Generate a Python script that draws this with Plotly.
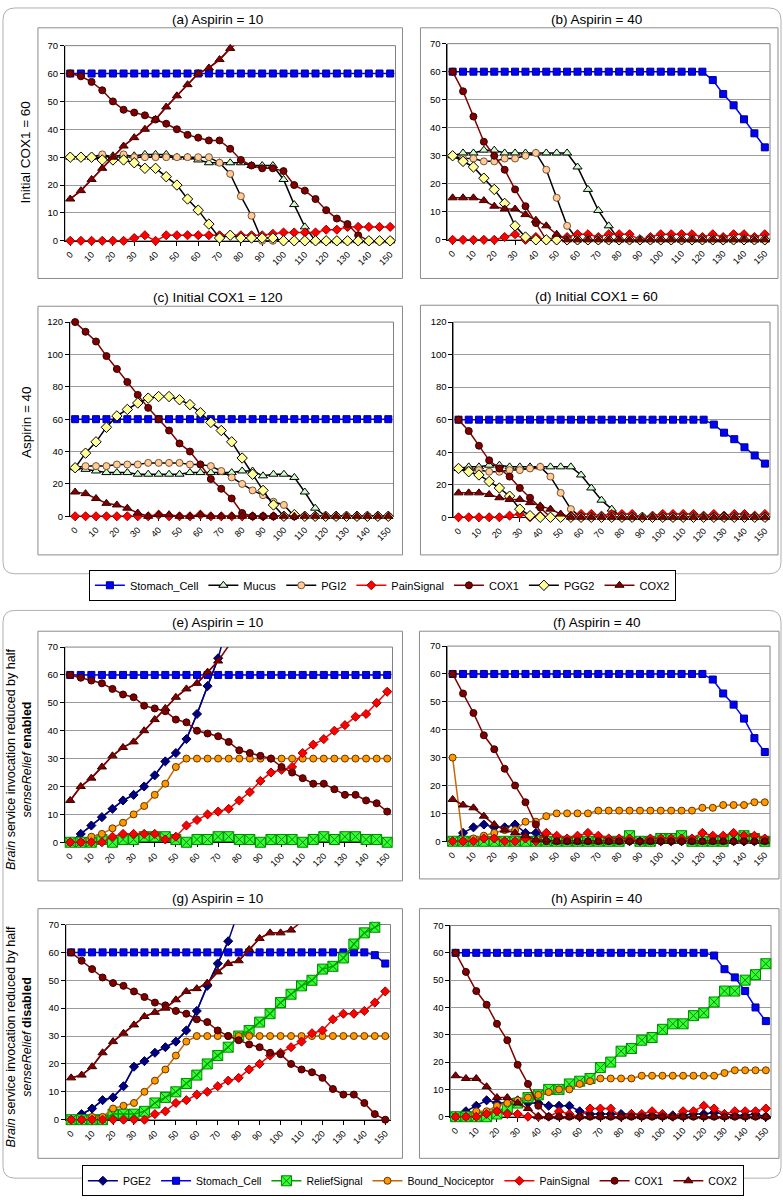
import plotly.graph_objects as go

W, H = 783, 1200
FONT = "Liberation Sans, Arial, sans-serif"

# ---------------- data ----------------
X = [0, 5, 10, 15, 20, 25, 30, 35, 40, 45, 50, 55, 60, 65, 70, 75, 80, 85, 90, 95,
     100, 105, 110, 115, 120, 125, 130, 135, 140, 145, 150]
X_TICKS = [0, 10, 20, 30, 40, 50, 60, 70, 80, 90, 100, 110, 120, 130, 140, 150]
X_LABELS = ["0", "10", "20", "30", "40", "50", "60", "70", "80", "90", "100",
            "110", "120", "130", "140", "150"]

# (a) Aspirin = 10, initial COX1 = 60
a_stomach = [60, 60, 60, 60, 60, 60, 60, 60, 60, 60, 60, 60, 60, 60, 60, 60,
             60, 60, 60, 60, 60, 60, 60, 60, 60, 60, 60, 60, 60, 60, 60]
a_mucus = [30, 30, 30, 30, 30.5, 30.5, 30.5, 31, 31, 31, 30, 30, 29, 28, 28, 28,
           28, 27, 27, 27, 22, 13, 5, 0, 0, 0, 0, 0, 0, 0, 0]
a_pgi2 = [30, 30, 30, 31, 30, 31, 30, 30, 30, 30, 30, 30, 30, 30, 28, 24,
          16, 9, 0, 0, 0, 0, 0, 0, 0, 0, 0, 0, 0, 0, 0]
a_pain = [0, 0, 0, 0, 0, 0, 1, 2, 0, 2, 2, 2, 2, 2, 2, 2,
          2, 2, 2, 2.5, 3, 3, 3, 3, 4, 4, 5, 5, 5, 5, 5]
a_cox1 = [60, 59, 57, 54, 50, 47, 46, 45, 43.5, 42, 40, 38, 37, 36, 36, 33,
          29, 27, 26, 26, 25, 20, 18, 15, 11, 8, 6, 2, 0, 0, 0]
a_pgg2 = [30, 30, 30, 29, 29, 29, 28, 26, 26, 23, 20, 15, 11, 6, 1, 2,
          1, 1, 1, 1, 0, 0, 0, 0, 0, 0, 0, 0, 0, 0, 0]
a_cox2 = [15, 18, 22, 26, 30, 34, 37, 40, 43.5, 48, 52, 56, 60, 62, 65, 69, 72, 75]

# (b) / (d) Aspirin = 40, initial COX1 = 60
b_stomach = [60, 60, 60, 60, 60, 60, 60, 60, 60, 60, 60, 60, 60, 60, 60, 60,
             60, 60, 60, 60, 60, 60, 60, 60, 60, 57, 52, 48, 43, 38, 33]
b_mucus = [30, 31, 31, 32, 32, 31, 31, 31, 31, 31, 31, 31, 26, 18, 10.5, 5,
           0, 0, 0, 0, 0, 0, 0, 0, 0, 0, 0, 0, 0, 0, 0]
b_pgi2 = [30, 29, 29, 28, 28, 29, 29, 30, 31, 25, 15, 5, 0, 0, 0, 0,
          0, 0, 0, 0, 0, 0, 0, 0, 0, 0, 0, 0, 0, 0, 0]
b_pain = [0, 0, 0, 0, 0, 1, 2, 0, 1, 0, 1, 1, 2, 2, 1, 2,
          2, 2, 0, 1, 2, 2, 2, 2, 1, 2, 1, 2, 2, 1, 2]
b_cox1 = [60, 53, 44, 35, 30, 25, 18, 12, 6, 0, 0, 0, 0, 0, 0, 0,
          0, 0, 0, 0, 0, 0, 0, 0, 0, 0, 0, 0, 0, 0, 0]
b_pgg2 = [30, 28, 26, 22, 18, 13, 5, 1, 0, 0, 0, 0, 0, 0, 0, 0,
          0, 0, 0, 0, 0, 0, 0, 0, 0, 0, 0, 0, 0, 0, 0]
b_cox2 = [15, 15, 15, 14, 12, 11, 11, 9, 7, 5, 2, 0, 0, 0, 0, 0,
          0, 0, 0, 0, 0, 0, 0, 0, 0, 0, 0, 0, 0, 0, 0]

# (c) Aspirin = 40, initial COX1 = 120
c_stomach = [60, 60, 60, 60, 60, 60, 60, 60, 60, 60, 60, 60, 60, 60, 60, 60,
             60, 60, 60, 60, 60, 60, 60, 60, 60, 60, 60, 60, 60, 60, 60]
c_mucus = [30, 29, 28, 27, 27, 27, 26, 26, 26, 26, 26, 27, 27, 27, 27, 27,
           28, 28, 25, 26, 26, 24, 15, 5, 0, 0, 0, 0, 0, 0, 0]
c_pgi2 = [30, 31, 31, 31, 32, 32, 32, 33, 33, 33, 33, 32, 32, 31, 28, 24,
          20, 16, 13, 9, 7, 0, 0, 0, 0, 0, 0, 0, 0, 0, 0]
c_pain = [0, 0, 0, 0, 0, 0, 0, 0, 1, 0, 0, 0, 1, 0, 0, 0,
          0, 0, 0, 0, 0, 0, 0, 0, 0, 0, 0, 0, 0, 0, 0]
c_cox1 = [120, 114, 108, 99, 91, 83, 75, 67, 60, 53, 45, 40, 32, 23, 17, 11,
          2, 0, 0, 0, 0, 0, 0, 0, 0, 0, 0, 0, 0, 0, 0]
c_pgg2 = [30, 39, 46, 55, 62, 66, 70, 73, 74, 74, 72, 69, 64, 58, 53, 46,
          36, 26, 16, 7, 0, 1, 0, 0, 0, 0, 0, 0, 0, 0, 0]
c_cox2 = [15, 14, 11, 8, 7, 5, 2, 0, 1, 1, 0, 0, 1, 0, 0, 0,
          0, 0, 0, 0, 0, 0, 0, 0, 0, 0, 0, 0, 0, 0, 0]

# (e) Aspirin = 10, senseRelief enabled
e_pge2 = [0, 3, 6, 9, 12, 15, 17, 20, 24, 29, 32, 37, 46, 56, 66, 80]
e_stomach = [60, 60, 60, 60, 60, 60, 60, 60, 60, 60, 60, 60, 60, 60, 60, 60,
             60, 60, 60, 60, 60, 60, 60, 60, 60, 60, 60, 60, 60, 60, 60]
e_relief = [0, 0, 0, 1, 0, 1, 1, 2, 2, 2, 1, 0, 1, 1, 2, 2,
            1, 1, 0, 1, 1, 1, 0, 1, 2, 1, 2, 2, 1, 1, 0]
e_bound = [0, 0, 2, 3, 5, 7, 10, 13, 17, 21, 27, 30, 30, 30, 30, 30,
           30, 30, 30, 30, 30, 30, 30, 30, 30, 30, 30, 30, 30, 30, 30]
e_pain = [0, 0, 0, 0, 2, 3, 3, 3, 3, 1, 2, 6, 8, 10, 11, 12,
          15, 18, 22, 25, 26, 27, 32, 35, 37, 40, 42, 45, 46, 50, 54]
e_cox1 = [60, 59, 58, 57, 55, 53, 52, 49, 48, 47, 44, 43, 40, 39, 38, 36,
          33, 32, 31, 30, 27, 25, 23, 21, 21, 19, 17, 17, 15, 14, 11]
e_cox2 = [15, 20, 23, 27, 31, 34, 36, 40, 44, 48, 52, 55, 57, 61, 65, 70.5, 76]

# (f) Aspirin = 40, senseRelief enabled
f_pge2 = [0, 3, 5, 6, 5, 5, 6, 3, 3, 1, 0, 0, 0, 0, 0, 0,
          0, 0, 0, 0, 0, 0, 0, 0, 0, 0, 0, 0, 0, 0, 0]
f_stomach = [60, 60, 60, 60, 60, 60, 60, 60, 60, 60, 60, 60, 60, 60, 60, 60,
             60, 60, 60, 60, 60, 60, 60, 60, 60, 58, 53, 49, 44, 37, 32]
f_relief = [0, 0, 0, 0, 0, 0, 0, 0, 0, 0, 0, 0, 0, 0, 0, 0,
            0, 2, 0, 0, 1, 1, 2, 0, 0, 0, 0, 1, 2, 1, 0]
f_bound = [30, 0, 1, 2, 3, 4, 4, 7, 7, 9, 10, 10, 10, 10, 11, 11,
           11, 11, 11, 11, 11, 11, 11, 11, 12, 12, 13, 13, 13, 14, 14]
f_pain = [0, 0, 0, 1, 1, 0, 0, 1, 0, 3, 2, 1, 2, 3, 2, 1,
          1, 1, 0, 1, 1, 1, 1, 1, 3, 2, 2, 3, 2, 2, 1]
f_cox1 = [60, 53, 46, 38, 33, 26, 20, 14, 6, 0, 0, 0, 0, 0, 0, 0,
          0, 0, 0, 0, 0, 0, 0, 0, 0, 0, 0, 0, 0, 0, 0]
f_cox2 = [15, 13, 12, 9, 6, 4, 3, 2, 0.5, 0.5, 0, 0, 0, 0, 0, 0,
          0, 0, 0, 0, 0, 0, 0, 0, 0, 0, 0, 0, 0, 0, 0]

# (g) Aspirin = 10, senseRelief disabled
g_pge2 = [0, 2, 4, 7, 8, 12, 19, 21, 24, 26, 28, 32, 39, 48, 56, 64, 75]
g_stomach = [60, 60, 60, 60, 60, 60, 60, 60, 60, 60, 60, 60, 60, 60, 60, 60,
             60, 60, 60, 60, 60, 60, 60, 60, 60, 60, 60, 60, 60, 59, 56]
g_relief = [0, 0, 0, 0, 2, 2, 2, 3, 6, 8, 10, 13, 16, 20, 23, 26,
            30, 32, 35, 38, 42, 45, 48, 50, 54, 55, 58, 63, 67, 69, 71]
g_bound = [0, 0, 1, 1, 4, 5, 6, 10, 14, 18, 23, 28, 30, 30, 30, 30,
           30, 30, 30, 30, 30, 30, 30, 30, 30, 30, 30, 30, 30, 30, 30]
g_pain = [0, 0, 0, 0, 0, 0, 0, 0, 2, 3, 6, 7, 9, 10, 12, 14,
          15, 18, 20, 23, 24, 26, 28, 31, 32, 36, 38, 38, 39, 42, 46]
g_cox1 = [60, 57, 54, 51, 49, 48, 46, 44, 42, 41, 39, 38, 36, 35, 32, 30,
          28.5, 27, 26, 24, 23.5, 20, 18, 17, 15, 11, 9, 9, 6, 2, 0]
g_cox2 = [15, 16, 19, 24, 28, 31, 34, 37, 38.5, 40, 43, 46, 47, 49, 53, 56,
          57, 61, 65, 67, 67, 68, 71, 74]

# (h) Aspirin = 40, senseRelief disabled
h_pge2 = [0, 2, 4, 6, 5, 5, 6, 5, 5, 4, 4, 4, 2, 1, 1, 1,
          1, 1, 0.5, 0.5, 0.5, 0.5, 0.5, 1, 1, 1.5, 1, 0.5, 0.5, 1, 0]
h_stomach = [60, 60, 60, 60, 60, 60, 60, 60, 60, 60, 60, 60, 60, 60, 60, 60,
             60, 60, 60, 60, 60, 60, 60, 60, 60, 59, 54, 51, 46, 40, 35]
h_relief = [0, 0, 0, 0, 1, 3, 5, 7, 8, 10, 10, 12, 13, 14, 18, 20,
            24, 25, 28, 29, 32, 34, 34, 37, 38, 42, 46, 46, 50, 52, 56]
h_bound = [0, 0, 2, 2, 4, 5, 6, 7, 8, 9, 10, 10, 12, 13, 14, 14,
           14, 14, 15, 15, 15, 15, 15, 15, 15, 15, 16, 17, 17, 17, 17]
h_pain = [0, 0, 0, 1, 2, 1, 1, 0, 0, 0, 2, 1, 0, 3, 3, 3,
          0, 1, 1, 2, 1, 0, 2, 2, 4, 3, 1, 2, 2, 2, 3]
h_cox1 = [60, 53, 46, 41, 34, 28, 19, 12, 4, 0, 0, 0, 0, 0, 0, 0,
          0, 0, 0, 0, 0, 0, 0, 0, 0, 0, 0, 0, 0, 0, 0]
h_cox2 = [15, 14, 14, 11, 7, 7, 5, 3, 0, 0, 0, 0, 0, 0, 0, 0,
          0, 0, 0, 0, 0, 0, 0, 0, 0, 0, 0, 0, 0, 0, 0]

# ---------------- styles ----------------
STYLE = {
    "Stomach_Cell": dict(line="#0000FF", symbol="square", fill="#0000FF", edge="#000080", size=7),
    "Mucus": dict(line="#000000", symbol="triangle-up", fill="#CCFFCC", edge="#000000", size=8),
    "PGI2": dict(line="#000000", symbol="circle", fill="#FFCC99", edge="#7A5230", size=7),
    "PainSignal": dict(line="#FF0000", symbol="diamond", fill="#FF0000", edge="#990000", size=7),
    "COX1": dict(line="#800000", symbol="circle", fill="#800000", edge="#330000", size=7),
    "PGG2": dict(line="#000000", symbol="diamond", fill="#FFFF99", edge="#000000", size=8),
    "COX2": dict(line="#800000", symbol="triangle-up", fill="#800000", edge="#330000", size=8),
    "PGE2": dict(line="#000080", symbol="diamond", fill="#000080", edge="#000040", size=7),
    "ReliefSignal": dict(line="#00A000", symbol="square-x", fill="#33FF33", edge="#008800", size=10),
    "Bound_Nociceptor": dict(line="#CC6600", symbol="circle", fill="#FF9900", edge="#663300", size=7),
}

TOP_SERIES = ["Stomach_Cell", "Mucus", "PGI2", "PainSignal", "COX1", "PGG2", "COX2"]
BOT_SERIES = ["PGE2", "Stomach_Cell", "ReliefSignal", "Bound_Nociceptor", "PainSignal", "COX1", "COX2"]

panels = [
    dict(key="a", title="(a) Aspirin = 10", ymax=70, dtick=10, px=(64, 395), py=(40, 237),
         frame=(37, 22, 402, 275), ty=14,
         data=[a_stomach, a_mucus, a_pgi2, a_pain, a_cox1, a_pgg2, a_cox2], names=TOP_SERIES),
    dict(key="b", title="(b) Aspirin = 40", ymax=70, dtick=10, px=(447, 770), py=(38, 236),
         frame=(420, 22, 778, 275), ty=14,
         data=[b_stomach, b_mucus, b_pgi2, b_pain, b_cox1, b_pgg2, b_cox2], names=TOP_SERIES),
    dict(key="c", title="(c) Initial COX1 = 120", ymax=120, dtick=20, px=(69, 393), py=(319, 515),
         frame=(37, 303, 402, 554), ty=294,
         data=[c_stomach, c_mucus, c_pgi2, c_pain, c_cox1, c_pgg2, c_cox2], names=TOP_SERIES),
    dict(key="d", title="(d) Initial COX1 = 60", ymax=120, dtick=20, px=(453, 770), py=(319, 516),
         frame=(420, 302, 778, 554), ty=293,
         data=[b_stomach, b_mucus, b_pgi2, b_pain, b_cox1, b_pgg2, b_cox2], names=TOP_SERIES),
    dict(key="e", title="(e) Aspirin = 10", ymax=70, dtick=10, px=(64, 392), py=(647, 844),
         frame=(37, 631, 402, 883), ty=622,
         data=[e_pge2, e_stomach, e_relief, e_bound, e_pain, e_cox1, e_cox2], names=BOT_SERIES),
    dict(key="f", title="(f) Aspirin = 40", ymax=70, dtick=10, px=(447, 770), py=(646, 843),
         frame=(419, 631, 779, 881), ty=622,
         data=[f_pge2, f_stomach, f_relief, f_bound, f_pain, f_cox1, f_cox2], names=BOT_SERIES),
    dict(key="g", title="(g) Aspirin = 10", ymax=70, dtick=10, px=(65, 390), py=(927, 1124),
         frame=(37, 911, 402, 1163), ty=901,
         data=[g_pge2, g_stomach, g_relief, g_bound, g_pain, g_cox1, g_cox2], names=BOT_SERIES),
    dict(key="h", title="(h) Aspirin = 40", ymax=70, dtick=10, px=(450, 771), py=(928, 1121),
         frame=(419, 911, 779, 1163), ty=901,
         data=[h_pge2, h_stomach, h_relief, h_bound, h_pain, h_cox1, h_cox2], names=BOT_SERIES),
]


def fx(px):
    return px / W


def fy(py):
    return 1 - py / H


fig = go.Figure()
shapes = []
annotations = []
layout_axes = {}

for i, p in enumerate(panels):
    suf = "" if i == 0 else str(i + 1)
    xa, ya = "x" + suf, "y" + suf
    ymax = p["ymax"]
    for name, vals in zip(p["names"], p["data"]):
        st = STYLE[name]
        xs = X[:len(vals)]
        vis = [v if v <= ymax else None for v in vals]
        show = p["key"] in ("a", "e")
        legend_id = "legend" if p["key"] == "a" else "legend2"
        fig.add_trace(go.Scatter(
            x=xs, y=vis, mode="lines+markers", name=name,
            line=dict(color=st["line"], width=1.5),
            marker=dict(symbol=st["symbol"], size=st["size"], color=st["fill"],
                        line=dict(color=st["edge"], width=1)),
            cliponaxis=False, showlegend=show, legend=legend_id,
            xaxis=xa, yaxis=ya, hoverinfo="skip"))
        if any(v > ymax for v in vals):
            fig.add_trace(go.Scatter(
                x=xs, y=vals, mode="lines", name=name,
                line=dict(color=st["line"], width=1.5),
                showlegend=False, xaxis=xa, yaxis=ya, hoverinfo="skip"))

    layout_axes["xaxis" + suf] = dict(
        domain=[fx(p["px"][0]), fx(p["px"][1])], anchor=ya,
        range=[-2.5, 152.5], tickmode="array", tickvals=X_TICKS, ticktext=X_LABELS,
        tickangle=-45, showgrid=False, zeroline=False, showline=True,
        linecolor="#000000", linewidth=1, ticks="outside", ticklen=4, tickcolor="#000000",
        tickfont=dict(size=9, color="#000000", family=FONT), layer="below traces",
        fixedrange=True)
    layout_axes["yaxis" + suf] = dict(
        domain=[fy(p["py"][1]), fy(p["py"][0])], anchor=xa,
        range=[0, ymax], dtick=p["dtick"], tick0=0, showgrid=True, gridcolor="#9A9A9A",
        gridwidth=1, zeroline=False, showline=True, linecolor="#000000", linewidth=1,
        ticks="outside", ticklen=4, tickcolor="#000000",
        tickfont=dict(size=9.5, color="#000000", family=FONT), layer="below traces",
        fixedrange=True)

    # plot-area border
    shapes.append(dict(type="rect", xref=xa + " domain", yref=ya + " domain",
                       x0=0, y0=0, x1=1, y1=1, line=dict(color="#808080", width=1),
                       layer="below"))
    # chart-area frame
    fl, ft, fr, fb = p["frame"]
    shapes.append(dict(type="rect", xref="paper", yref="paper",
                       x0=fx(fl), y0=fy(fb), x1=fx(fr), y1=fy(ft),
                       line=dict(color="#8C8C8C", width=1), layer="below"))
    annotations.append(dict(text=p["title"], xref="paper", yref="paper",
                            x=fx((fl + fr) / 2 - 3), y=fy(p["ty"]), xanchor="center",
                            yanchor="middle", showarrow=False,
                            font=dict(size=13.5, color="#000000", family=FONT)))


def rounded_box(x0, y0, x1, y1, r):
    X0, X1 = fx(x0), fx(x1)
    Y0, Y1 = fy(y0), fy(y1)
    rx, ry = r / W, r / H
    return (f"M {X0 + rx},{Y0} L {X1 - rx},{Y0} Q {X1},{Y0} {X1},{Y0 - ry} "
            f"L {X1},{Y1 + ry} Q {X1},{Y1} {X1 - rx},{Y1} L {X0 + rx},{Y1} "
            f"Q {X0},{Y1} {X0},{Y1 + ry} L {X0},{Y0 - ry} Q {X0},{Y0} {X0 + rx},{Y0} Z")


shapes.append(dict(type="path", xref="paper", yref="paper", path=rounded_box(2, 2, 781, 573, 12),
                   line=dict(color="#B0B0B0", width=1), layer="below"))
shapes.append(dict(type="path", xref="paper", yref="paper", path=rounded_box(2, 610, 781, 1183, 12),
                   line=dict(color="#B0B0B0", width=1), layer="below"))

# group row titles
annotations.append(dict(text="Initial COX1 = 60", xref="paper", yref="paper",
                        x=fx(25), y=fy(148), textangle=-90, showarrow=False,
                        xanchor="center", yanchor="middle",
                        font=dict(size=13.5, color="#000000", family=FONT)))
annotations.append(dict(text="Aspirin = 40", xref="paper", yref="paper",
                        x=fx(25), y=fy(420), textangle=-90, showarrow=False,
                        xanchor="center", yanchor="middle",
                        font=dict(size=13.5, color="#000000", family=FONT)))
annotations.append(dict(text="<i>Brain</i> service invocation reduced by half<br><i>senseRelief</i> <b>enabled</b>",
                        xref="paper", yref="paper", x=fx(18), y=fy(760), textangle=-90,
                        showarrow=False, xanchor="center", yanchor="middle",
                        font=dict(size=12.5, color="#000000", family=FONT)))
annotations.append(dict(text="<i>Brain</i> service invocation reduced by half<br><i>senseRelief</i> <b>disabled</b>",
                        xref="paper", yref="paper", x=fx(18), y=fy(1040), textangle=-90,
                        showarrow=False, xanchor="center", yanchor="middle",
                        font=dict(size=12.5, color="#000000", family=FONT)))

legend_common = dict(orientation="h", xanchor="left", yanchor="top", bgcolor="#FFFFFF",
                     bordercolor="#000000", borderwidth=1,
                     itemwidth=30, tracegroupgap=0)

fig.update_layout(
    width=W, height=H, autosize=False,
    margin=dict(l=0, r=0, t=0, b=0),
    paper_bgcolor="#FFFFFF", plot_bgcolor="#FFFFFF",
    font=dict(family=FONT, color="#000000"),
    shapes=shapes, annotations=annotations,
    legend=dict(x=fx(88), y=fy(569), font=dict(size=11, color="#000000", family=FONT),
                **legend_common),
    legend2=dict(x=fx(81), y=fy(1170), font=dict(size=10.5, color="#000000", family=FONT),
                 **legend_common),
    **layout_axes,
)

fig.write_html(
    "out.html",
    config={"displayModeBar": False, "staticPlot": True},
    post_script="document.body.style.margin='0';document.body.style.padding='0';"
                "document.body.style.overflow='hidden';"
                "document.documentElement.style.overflow='hidden';",
)
